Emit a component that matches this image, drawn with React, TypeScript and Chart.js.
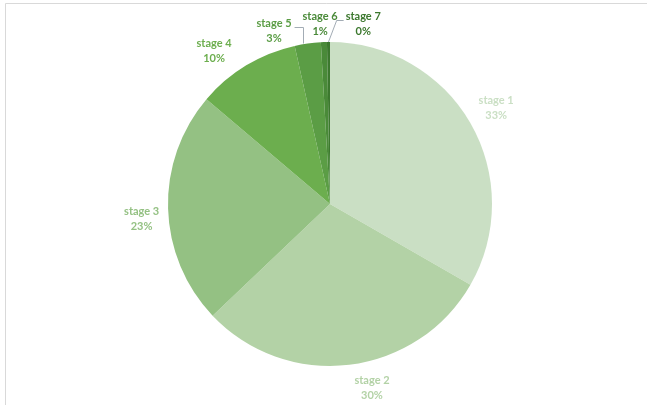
import React, { useEffect, useRef } from "react";
import { Chart, registerables } from "chart.js";

Chart.register(...registerables);

const stages = ["stage 1", "stage 2", "stage 3", "stage 4", "stage 5", "stage 6", "stage 7"];
const shares = [33.3, 29.6, 23.3, 10.3, 2.6, 0.6, 0.3];
const sliceColors = ["#cadfc4", "#b3d2a6", "#94c183", "#6cae4e", "#5b9d45", "#4a8a39", "#3c782e"];

// label layout: [angle shift (deg), distance beyond rim (px)]
const labelShift = [[0, 30], [-6, 27], [-3, 27], [-6, 30], [-10, 20], [-1, 18], [11, 21]];
const hasLeader = [false, false, false, false, true, false, true];

const FONT = "bold 11px Lato, 'DejaVu Sans', sans-serif";

const labelPlugin = {
  id: "pieLabels",
  beforeDraw(chart: any) {
    const ctx = chart.ctx;
    ctx.save();
    ctx.fillStyle = "#ffffff";
    ctx.fillRect(0, 0, chart.width, chart.height);
    ctx.strokeStyle = "#d9d9d9";
    ctx.lineWidth = 1;
    ctx.beginPath();
    ctx.moveTo(5.5, chart.height + 5);
    ctx.lineTo(5.5, 3.5);
    ctx.lineTo(chart.width + 5, 3.5);
    ctx.stroke();
    ctx.restore();
  },
  afterDraw(chart: any) {
    const ctx = chart.ctx;
    const meta = chart.getDatasetMeta(0);
    const total = shares.reduce((a, b) => a + b, 0);
    ctx.save();
    ctx.font = FONT;
    ctx.textAlign = "center";
    ctx.textBaseline = "middle";
    meta.data.forEach((arc: any, i: number) => {
      const { x, y, startAngle, endAngle, outerRadius } = arc.getProps(
        ["x", "y", "startAngle", "endAngle", "outerRadius"],
        true
      );
      const mid = (startAngle + endAngle) / 2;
      const la = mid + (labelShift[i][0] * Math.PI) / 180;
      const lr = outerRadius + labelShift[i][1];
      const lx = x + Math.cos(la) * lr;
      const ly = y + Math.sin(la) * lr;
      const pct = Math.round((shares[i] / total) * 100) + "%";
      const line1 = stages[i];
      ctx.fillStyle = sliceColors[i];
      ctx.fillText(line1, lx, ly - 7.5);
      ctx.fillText(pct, lx, ly + 7.5);
      if (hasLeader[i]) {
        const rx = x + Math.cos(mid) * outerRadius;
        const ry = y + Math.sin(mid) * outerRadius;
        const w = ctx.measureText(line1).width;
        const left = lx - w / 2;
        const right = lx + w / 2;
        const ay = Math.round(ly - 4) + 0.5;
        ctx.strokeStyle = "#a3acb5";
        ctx.lineWidth = 1;
        ctx.beginPath();
        if (rx > right) {
          const vx = Math.round(rx - 5) + 0.5;
          ctx.moveTo(right + 3, ay);
          ctx.lineTo(vx, ay);
          ctx.lineTo(vx, ry);
        } else {
          ctx.moveTo(left - 2, ay);
          ctx.lineTo(left - 9, ay);
          ctx.lineTo(rx, ry);
        }
        ctx.stroke();
      }
    });
    ctx.restore();
  },
};

export default function App() {
  const ref = useRef<HTMLCanvasElement | null>(null);
  useEffect(() => {
    if (!ref.current) return;
    const chart = new Chart(ref.current, {
      type: "pie",
      data: {
        labels: stages,
        datasets: [
          {
            data: shares,
            backgroundColor: sliceColors,
            borderWidth: 0,
          },
        ],
      },
      options: {
        responsive: false,
        animation: false,
        layout: { padding: { left: 168, right: 155, top: 42, bottom: 39 } },
        plugins: {
          legend: { display: false },
          tooltip: { enabled: false },
        },
      },
      plugins: [labelPlugin],
    });
    return () => chart.destroy();
  }, []);
  return (
    <div style={{ position: "fixed", left: 0, top: 0, width: 647, height: 405 }}>
      <canvas ref={ref} width={647} height={405} style={{ width: 647, height: 405 }} />
    </div>
  );
}
